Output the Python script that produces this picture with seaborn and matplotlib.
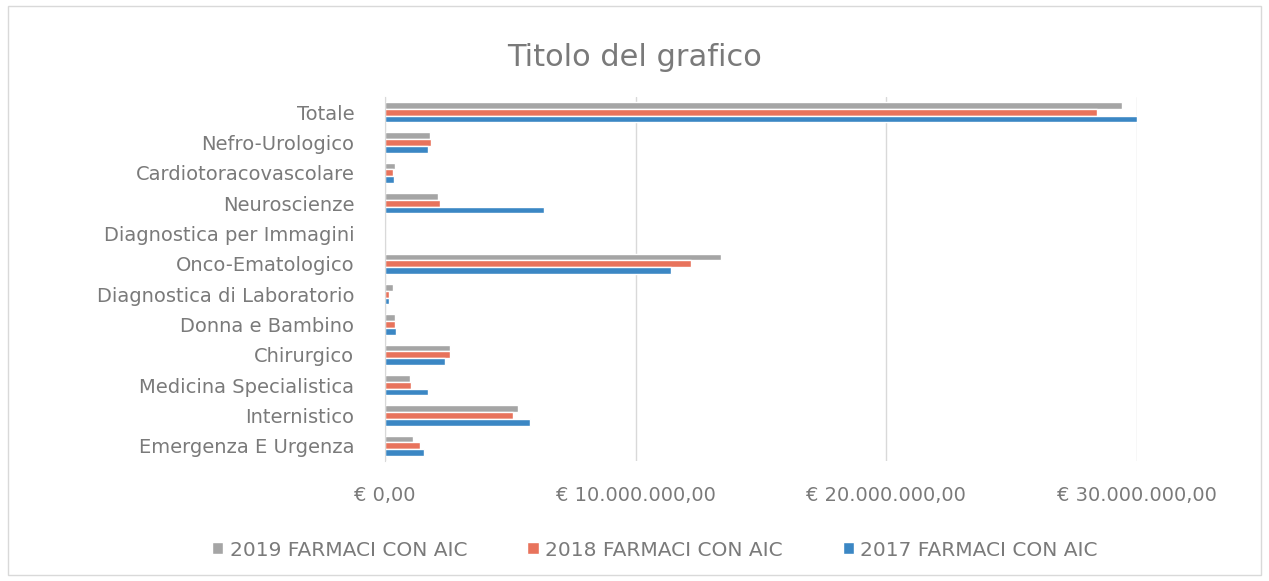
import seaborn as sns
import matplotlib.pyplot as plt
import pandas as pd
from matplotlib.patches import Patch, Rectangle
from matplotlib.ticker import FuncFormatter

categorie = [
    "Totale", "Nefro-Urologico", "Cardiotoracovascolare", "Neuroscienze",
    "Diagnostica per Immagini", "Onco-Ematologico", "Diagnostica di Laboratorio",
    "Donna e Bambino", "Chirurgico", "Medicina Specialistica", "Internistico",
    "Emergenza E Urgenza",
]
serie = ["2019 FARMACI CON AIC", "2018 FARMACI CON AIC", "2017 FARMACI CON AIC"]
v2019 = [29.4e6, 1.8e6, 0.4e6, 2.1e6, 0.0, 13.4e6, 0.3e6, 0.4e6, 2.6e6, 1.0e6, 5.3e6, 1.1e6]
v2018 = [28.4e6, 1.83e6, 0.3e6, 2.2e6, 0.0, 12.2e6, 0.15e6, 0.4e6, 2.6e6, 1.05e6, 5.1e6, 1.4e6]
v2017 = [30.0e6, 1.7e6, 0.35e6, 6.35e6, 0.0, 11.4e6, 0.15e6, 0.42e6, 2.4e6, 1.7e6, 5.8e6, 1.55e6]
colori = ["#A5A5A5", "#E8735C", "#3B87C4"]

df = pd.DataFrame({
    "categoria": categorie * 3,
    "serie": [serie[0]] * 12 + [serie[1]] * 12 + [serie[2]] * 12,
    "valore": v2019 + v2018 + v2017,
})

sns.set_style("white")
plt.rcParams["font.family"] = ["DejaVu Sans"]

fig = plt.figure(figsize=(12.69, 5.81), dpi=100)
ax = fig.add_axes([385 / 1269, 1 - 461 / 581, (1137 - 385) / 1269, (461 - 97) / 581])

sns.barplot(data=df, x="valore", y="categoria", hue="serie", order=categorie,
            hue_order=serie, palette=colori, orient="h", width=0.66,
            saturation=1, ax=ax, legend=False)

ax.set_xlim(0, 30e6)
ax.set_xticks([0, 10e6, 20e6, 30e6])

def euro(x, pos):
    s = f"{x:,.2f}".replace(",", "X").replace(".", ",").replace("X", ".")
    return "€ " + s

ax.xaxis.set_major_formatter(FuncFormatter(euro))
ax.grid(axis="x", color="#D9D9D9", linewidth=1)
ax.set_axisbelow(True)
for s in ["top", "right", "bottom"]:
    ax.spines[s].set_visible(False)
ax.spines["left"].set_color("#D9D9D9")
ax.set_xlabel("")
ax.set_ylabel("")
ax.tick_params(axis="x", length=0, pad=18, labelsize=14, labelcolor="#7A7A7A")
ax.tick_params(axis="y", length=0, pad=22, labelsize=14, labelcolor="#7A7A7A")

fig.text(0.5, 1 - 58 / 581, "Titolo del grafico", ha="center", va="center",
         fontsize=22, color="#7A7A7A")

handles = [Patch(facecolor=c, label=l) for c, l in zip(colori, serie)]
fig.legend(handles=handles, loc="center", bbox_to_anchor=(0.516, 1 - 550 / 581),
           ncol=3, frameon=False, fontsize=14.5, labelcolor="#7A7A7A",
           handlelength=0.55, handleheight=0.55, handletextpad=0.3, columnspacing=3.0)

fig.patches.append(Rectangle((8 / 1269, 6 / 581), 1 - 16 / 1269, 1 - 12 / 581,
                             transform=fig.transFigure, fill=False,
                             edgecolor="#D9D9D9", linewidth=1))

fig.savefig("out.png", dpi=100)
